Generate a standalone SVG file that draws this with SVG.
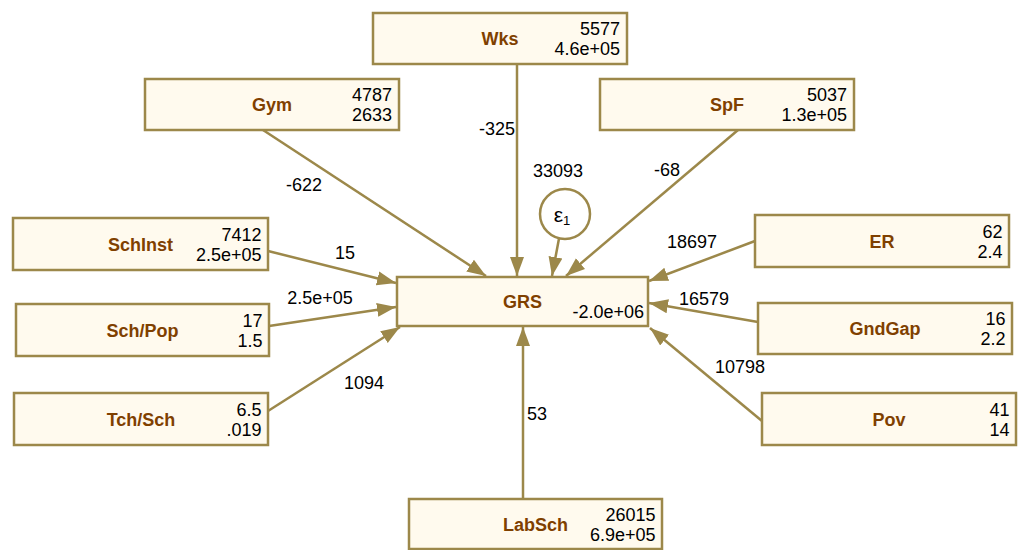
<svg xmlns="http://www.w3.org/2000/svg" width="1021" height="550" viewBox="0 0 1021 550">
  <style>
    .box { fill: #fffaee; stroke: #9c884a; stroke-width: 2.5; }
    .lbl { font-family: "Liberation Sans", Arial, sans-serif; font-size: 18px; font-weight: bold; fill: #7f4000; text-anchor: middle; }
    .num { font-family: "Liberation Sans", Arial, sans-serif; font-size: 18px; fill: #000; text-anchor: end; }
    .coef { font-family: "Liberation Sans", Arial, sans-serif; font-size: 18px; fill: #000; text-anchor: middle; }
    .edge { stroke: #9c884a; stroke-width: 2.5; fill: none; marker-end: url(#arrow); }
  </style>
  <defs>
    <marker id="arrow" markerUnits="userSpaceOnUse" markerWidth="20" markerHeight="16" viewBox="0 0 20 16" refX="19" refY="8" orient="auto">
      <path d="M0,1 L19,8 L0,15 Z" fill="#9c884a"/>
    </marker>
  </defs>

  <rect width="1021" height="550" fill="#ffffff"/>

  <!-- paths into GRS -->
  <g id="connectors">
    <line class="edge" x1="263" y1="130" x2="486" y2="276"/>
    <line class="edge" x1="517" y1="64" x2="517" y2="276"/>
    <line class="edge" x1="738" y1="130" x2="566" y2="276"/>
    <line class="edge" x1="559" y1="238.5" x2="552" y2="276"/>
    <line class="edge" x1="268" y1="251" x2="396" y2="283"/>
    <line class="edge" x1="269" y1="326" x2="396" y2="307"/>
    <line class="edge" x1="268" y1="411" x2="400" y2="327"/>
    <line class="edge" x1="755" y1="241" x2="649" y2="281"/>
    <line class="edge" x1="758" y1="322" x2="649" y2="303"/>
    <line class="edge" x1="762" y1="421" x2="650" y2="328"/>
    <line class="edge" x1="523" y1="499" x2="523" y2="327"/>

    <text class="coef" x="497" y="135">-325</text>
    <text class="coef" x="558" y="177">33093</text>
    <text class="coef" x="304" y="191">-622</text>
    <text class="coef" x="667" y="176">-68</text>
    <text class="coef" x="345" y="259">15</text>
    <text class="coef" x="320" y="304">2.5e+05</text>
    <text class="coef" x="364" y="389">1094</text>
    <text class="coef" x="692" y="248">18697</text>
    <text class="coef" x="704" y="305">16579</text>
    <text class="coef" x="740" y="373">10798</text>
    <text class="coef" x="537" y="420">53</text>
  </g>

  <g id="eps1">
    <circle cx="565" cy="214" r="25" fill="#ffffff" stroke="#9c884a" stroke-width="2.5"/>
    <text x="562" y="222" font-family="Liberation Sans, Arial, sans-serif" font-size="21" text-anchor="middle">ε<tspan font-size="13" dy="3">1</tspan></text>
  </g>

  <g id="GRS">
    <rect class="box" x="397" y="277" width="251" height="49"/>
    <text class="lbl" x="522.5" y="308">GRS</text>
    <text class="num" x="644" y="318">-2.0e+06</text>
  </g>

  <g id="Wks">
    <rect class="box" x="373" y="13" width="254" height="51"/>
    <text class="lbl" x="500" y="45">Wks</text>
    <text class="num" x="620" y="35">5577</text>
    <text class="num" x="620" y="55">4.6e+05</text>
  </g>

  <g id="Gym">
    <rect class="box" x="145" y="79" width="254" height="51"/>
    <text class="lbl" x="272" y="111">Gym</text>
    <text class="num" x="392" y="101">4787</text>
    <text class="num" x="392" y="121">2633</text>
  </g>

  <g id="SpF">
    <rect class="box" x="600" y="79" width="254" height="51"/>
    <text class="lbl" x="727" y="111">SpF</text>
    <text class="num" x="847" y="101">5037</text>
    <text class="num" x="847" y="121">1.3e+05</text>
  </g>

  <g id="SchInst">
    <rect class="box" x="13" y="218" width="255" height="52"/>
    <text class="lbl" x="140.5" y="250.5">SchInst</text>
    <text class="num" x="261.5" y="240.5">7412</text>
    <text class="num" x="261.5" y="260.5">2.5e+05</text>
  </g>

  <g id="SchPop">
    <rect class="box" x="16" y="304" width="253" height="52"/>
    <text class="lbl" x="142.5" y="336.5">Sch/Pop</text>
    <text class="num" x="262.5" y="326.5">17</text>
    <text class="num" x="262.5" y="346.5">1.5</text>
  </g>

  <g id="TchSch">
    <rect class="box" x="14" y="393" width="254" height="52"/>
    <text class="lbl" x="141" y="425.5">Tch/Sch</text>
    <text class="num" x="261.5" y="415.5">6.5</text>
    <text class="num" x="261.5" y="435.5">.019</text>
  </g>

  <g id="ER">
    <rect class="box" x="755" y="215" width="254" height="52"/>
    <text class="lbl" x="882" y="247.5">ER</text>
    <text class="num" x="1002.5" y="237.5">62</text>
    <text class="num" x="1002.5" y="257.5">2.4</text>
  </g>

  <g id="GndGap">
    <rect class="box" x="758" y="303" width="254" height="51"/>
    <text class="lbl" x="885" y="335">GndGap</text>
    <text class="num" x="1005.5" y="325">16</text>
    <text class="num" x="1005.5" y="345">2.2</text>
  </g>

  <g id="Pov">
    <rect class="box" x="762" y="393" width="254" height="52"/>
    <text class="lbl" x="889" y="425.5">Pov</text>
    <text class="num" x="1009.5" y="415.5">41</text>
    <text class="num" x="1009.5" y="435.5">14</text>
  </g>

  <g id="LabSch">
    <rect class="box" x="409" y="499" width="253" height="50"/>
    <text class="lbl" x="535.5" y="530.5">LabSch</text>
    <text class="num" x="655.5" y="520.5">26015</text>
    <text class="num" x="655.5" y="540.5">6.9e+05</text>
  </g>
</svg>
